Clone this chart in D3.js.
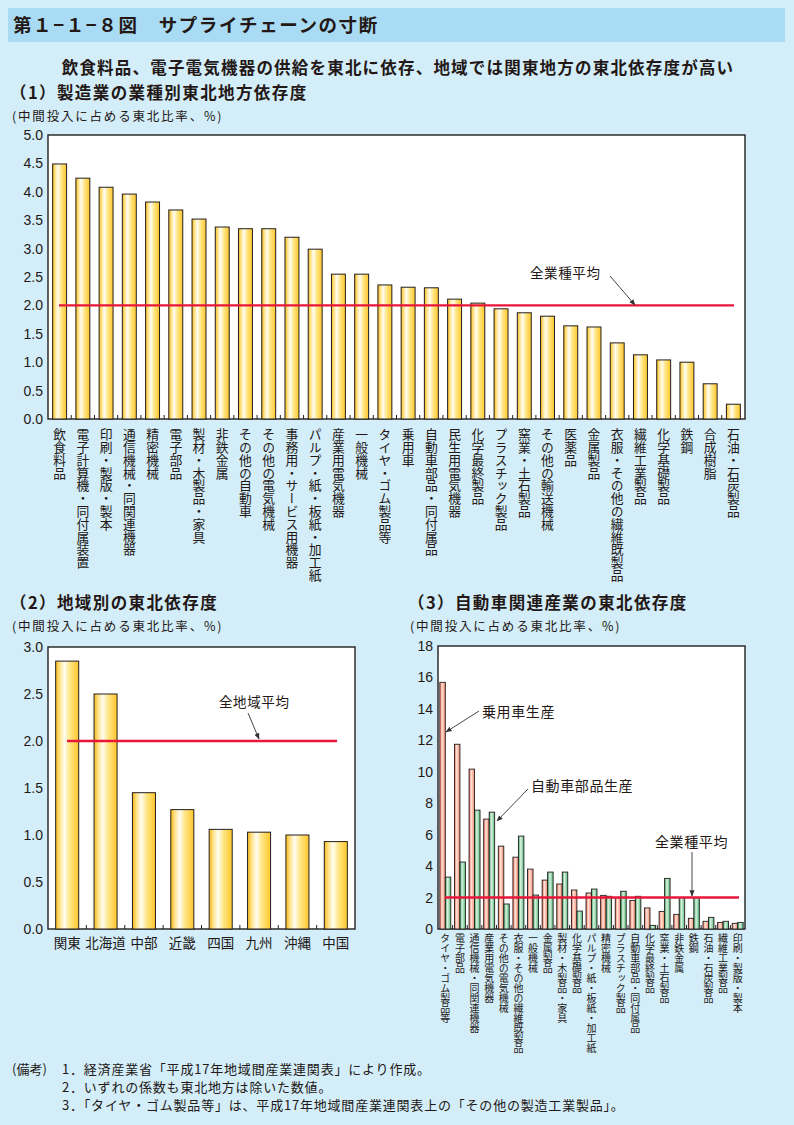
<!DOCTYPE html>
<html><head><meta charset="utf-8">
<script src="https://cdn.jsdelivr.net/npm/d3@7"></script>
<style>
html,body{margin:0;padding:0;background:#d3edf9;}
svg{display:block;}
text{font-family:"Noto Sans CJK JP","Liberation Sans",sans-serif;fill:#231815;}
.num{font-family:"Liberation Sans","Noto Sans CJK JP",sans-serif;}
.vert{writing-mode:vertical-rl;}
</style></head>
<body>
<svg id="c" width="794" height="1125"></svg>
<script>
// ---------- data ----------
const cat1 = ["飲食料品","電子計算機・同付属装置","印刷・製版・製本","通信機械・同関連機器","精密機械","電子部品","製材・木製品・家具","非鉄金属","その他の自動車","その他の電気機械","事務用・サービス用機器","パルプ・紙・板紙・加工紙","産業用電気機器","一般機械","タイヤ・ゴム製品等","乗用車","自動車部品・同付属品","民生用電気機器","化学最終製品","プラスチック製品","窯業・土石製品","その他の輸送機械","医薬品","金属製品","衣服・その他の繊維既製品","繊維工業製品","化学基礎製品","鉄鋼","合成樹脂","石油・石炭製品"];
const val1 = [4.49,4.24,4.08,3.96,3.82,3.68,3.52,3.38,3.35,3.35,3.20,2.99,2.55,2.55,2.36,2.32,2.31,2.11,2.04,1.94,1.87,1.81,1.64,1.62,1.34,1.13,1.04,1.00,0.62,0.26];
const avg1 = 2.0;
const ticks1 = [0,0.5,1,1.5,2,2.5,3,3.5,4,4.5,5];

const regions = ["関東","北海道","中部","近畿","四国","九州","沖縄","中国"];
const val2 = [2.85,2.50,1.45,1.27,1.06,1.03,1.00,0.93];
const avg2 = 2.0;
const ticks2 = [0,0.5,1,1.5,2,2.5,3];

const cat3 = ["タイヤ・ゴム製品等","電子部品","通信機械・同関連機器","産業用電気機器","その他の電気機械","衣服・その他の繊維既製品","一般機械","金属製品","製材・木製品・家具","化学基礎製品","パルプ・紙・板紙・加工紙","精密機械","プラスチック製品","自動車部品・同付属品","化学最終製品","窯業・土石製品","非鉄金属","鉄鋼","石油・石炭製品","繊維工業製品","印刷・製版・製本"];
const car3 = [15.69,11.75,10.17,6.99,5.27,4.57,3.81,3.11,2.86,2.48,2.29,2.14,1.99,1.82,1.34,1.12,0.93,0.68,0.49,0.42,0.36];
const parts3 = [3.30,4.26,7.56,7.43,1.59,5.91,2.16,3.62,3.62,1.14,2.54,2.08,2.40,2.08,0.23,3.22,2.00,2.00,0.74,0.49,0.42];
const avg3 = 2.0;
const ticks3 = [0,2,4,6,8,10,12,14,16,18];
const series3 = ["乗用車生産","自動車部品生産"];

const notes = [
  ["(備考)","1．経済産業省「平成17年地域間産業連関表」により作成。"],
  ["","2．いずれの係数も東北地方は除いた数値。"],
  ["","3．「タイヤ・ゴム製品等」は、平成17年地域間産業連関表上の「その他の製造工業製品」。"]
];

// ---------- drawing ----------
const svg = d3.select("#c");
const defs = svg.append("defs");
function grad(id, stops){
  const g = defs.append("linearGradient").attr("id",id).attr("x1","0").attr("x2","1").attr("y1","0").attr("y2","0");
  stops.forEach(s=>g.append("stop").attr("offset",s[0]).attr("stop-color",s[1]));
}
grad("gY",[["0%","#f7b916"],["18%","#ffe38a"],["38%","#fffdf2"],["62%","#ffe685"],["100%","#ffc62a"]]);
grad("gR",[["0%","#ef6a50"],["40%","#fde3da"],["100%","#f58768"]]);
grad("gG",[["0%","#36a35e"],["40%","#d9f1e0"],["100%","#58bd7b"]]);
defs.append("marker").attr("id","ah").attr("viewBox","0 0 10 10").attr("refX",9).attr("refY",5)
  .attr("markerWidth",7).attr("markerHeight",7).attr("orient","auto-start-reverse")
  .append("path").attr("d","M0,1 L10,5 L0,9 Z").attr("fill","#333");

// title bar
svg.append("rect").attr("x",8).attr("y",8).attr("width",777).attr("height",34).attr("fill","#a9dcf4");
svg.append("text").attr("x",13).attr("y",32).attr("font-size",18.5).attr("font-weight",700).attr("letter-spacing",1.6)
  .text("第１−１−８図　サプライチェーンの寸断");
svg.append("text").attr("x",398).attr("y",74).attr("text-anchor","middle").attr("font-size",16.5).attr("font-weight",700).attr("letter-spacing",1.2)
  .text("飲食料品、電子電気機器の供給を東北に依存、地域では関東地方の東北依存度が高い");

function header(x,y,t,s){
  svg.append("text").attr("x",x).attr("y",y).attr("font-size",16.5).attr("font-weight",700).attr("letter-spacing",1.4).text(t);
  svg.append("text").attr("x",x+2).attr("y",y+22).attr("font-size",12.5).attr("letter-spacing",1.8).text(s);
}
const sub = "(中間投入に占める東北比率、%)";
header(10,99,"（1）製造業の業種別東北地方依存度",sub);
header(10,609,"（2）地域別の東北依存度",sub);
header(408,609,"（3）自動車関連産業の東北依存度",sub);

function frame(x0,x1,y0,y1){
  svg.append("rect").attr("x",x0).attr("y",y0).attr("width",x1-x0).attr("height",y1-y0)
    .attr("fill","#fff").attr("stroke","#231f20").attr("stroke-width",1.4);
}
function yLabels(y,ticks,xr,fmt){
  svg.append("g").selectAll("text").data(ticks).join("text").attr("class","num")
    .attr("x",xr).attr("y",d=>y(d)).attr("dy","0.36em").attr("text-anchor","end")
    .attr("font-size",14).attr("fill","#333").text(fmt);
}
function bottomTicks(x,yb){
  const step = x.step();
  const arr = x.domain().slice(0,-1);
  const off = d => x(d)+x.bandwidth()+(step-x.bandwidth())/2;
  svg.append("g").selectAll("line").data(arr).join("line")
    .attr("x1",off).attr("x2",off)
    .attr("y1",yb).attr("y2",yb-4).attr("stroke","#231f20").attr("stroke-width",1);
}
function arrow(x1,y1,x2,y2){
  svg.append("line").attr("x1",x1).attr("y1",y1).attr("x2",x2).attr("y2",y2)
    .attr("stroke","#333").attr("stroke-width",0.9).attr("marker-end","url(#ah)");
}
function note(x,y,t,fs){
  svg.append("text").attr("x",x).attr("y",y).attr("font-size",fs||13.5).attr("letter-spacing",0.6).text(t);
}

// ---- chart 1 ----
const X1 = d3.scaleBand().domain(cat1).range([48,745]).paddingInner(0.4).paddingOuter(0.2);
const Y1 = d3.scaleLinear().domain([0,5]).range([419,135]);
frame(48,745,135,419);
svg.append("g").selectAll("rect").data(cat1).join("rect")
  .attr("x",d=>X1(d)).attr("width",X1.bandwidth())
  .attr("y",(d,i)=>Y1(val1[i])).attr("height",(d,i)=>Y1(0)-Y1(val1[i]))
  .attr("fill","url(#gY)").attr("stroke","#231f20").attr("stroke-width",1);
bottomTicks(X1,419);
svg.append("line").attr("x1",59).attr("x2",734).attr("y1",Y1(avg1)).attr("y2",Y1(avg1)).attr("stroke","#e8173a").attr("stroke-width",2.4);
yLabels(Y1,ticks1,43,d=>d.toFixed(1));
svg.append("g").selectAll("text").data(cat1).join("text").attr("class","vert")
  .attr("x",d=>X1(d)+X1.bandwidth()/2).attr("y",428).attr("font-size",12.8).text(d=>d);
note(530,278,"全業種平均");
arrow(610,276,635,305);

// ---- chart 2 ----
const X2 = d3.scaleBand().domain(regions).range([48,355]).paddingInner(0.4).paddingOuter(0.2);
const Y2 = d3.scaleLinear().domain([0,3]).range([929,647]);
frame(48,355,647,929);
svg.append("g").selectAll("rect").data(regions).join("rect")
  .attr("x",d=>X2(d)).attr("width",X2.bandwidth())
  .attr("y",(d,i)=>Y2(val2[i])).attr("height",(d,i)=>Y2(0)-Y2(val2[i]))
  .attr("fill","url(#gY)").attr("stroke","#231f20").attr("stroke-width",1);
bottomTicks(X2,929);
svg.append("line").attr("x1",67).attr("x2",337).attr("y1",Y2(avg2)).attr("y2",Y2(avg2)).attr("stroke","#e8173a").attr("stroke-width",2.4);
yLabels(Y2,ticks2,43,d=>d.toFixed(1));
svg.append("g").selectAll("text").data(regions).join("text")
  .attr("x",d=>X2(d)+X2.bandwidth()/2).attr("y",948).attr("text-anchor","middle").attr("font-size",13.5).text(d=>d);
note(219,707,"全地域平均");
arrow(248,713,259,739);

// ---- chart 3 ----
const X3 = d3.scaleBand().domain(cat3).range([438,745]).paddingInner(0.25).paddingOuter(0.125);
const S3 = d3.scaleBand().domain(series3).range([0,X3.bandwidth()]);
const Y3 = d3.scaleLinear().domain([0,18]).range([929,646]);
frame(438,745,646,929);
const g3 = svg.append("g").selectAll("g").data(cat3).join("g").attr("transform",d=>`translate(${X3(d)},0)`);
g3.append("rect").attr("x",S3(series3[0])).attr("width",S3.bandwidth())
  .attr("y",(d,i)=>Y3(car3[i])).attr("height",(d,i)=>Y3(0)-Y3(car3[i]))
  .attr("fill","url(#gR)").attr("stroke","#231f20").attr("stroke-width",0.9);
g3.append("rect").attr("x",S3(series3[1])).attr("width",S3.bandwidth())
  .attr("y",(d,i)=>Y3(parts3[i])).attr("height",(d,i)=>Y3(0)-Y3(parts3[i]))
  .attr("fill","url(#gG)").attr("stroke","#231f20").attr("stroke-width",0.9);
bottomTicks(X3,929);
svg.append("line").attr("x1",445).attr("x2",739).attr("y1",Y3(avg3)).attr("y2",Y3(avg3)).attr("stroke","#e8173a").attr("stroke-width",2.4);
yLabels(Y3,ticks3,433,d=>String(d));
svg.append("g").selectAll("text").data(cat3).join("text").attr("class","vert")
  .attr("x",d=>X3(d)+X3.bandwidth()/2).attr("y",933).attr("font-size",10).text(d=>d);
note(482,717,series3[0],14);
arrow(479,711,446,732);
note(531,791,series3[1],14);
arrow(528,789,497,821);
note(655,847,"全業種平均",14);
arrow(692,852,692,896);

// ---- notes ----
notes.forEach((n,i)=>{
  const y = 1074 + i*18;
  if(n[0]) svg.append("text").attr("x",12).attr("y",y).attr("font-size",13).text(n[0]);
  svg.append("text").attr("x",62).attr("y",y).attr("font-size",13).attr("letter-spacing",0.8).text(n[1]);
});
</script>
</body></html>
